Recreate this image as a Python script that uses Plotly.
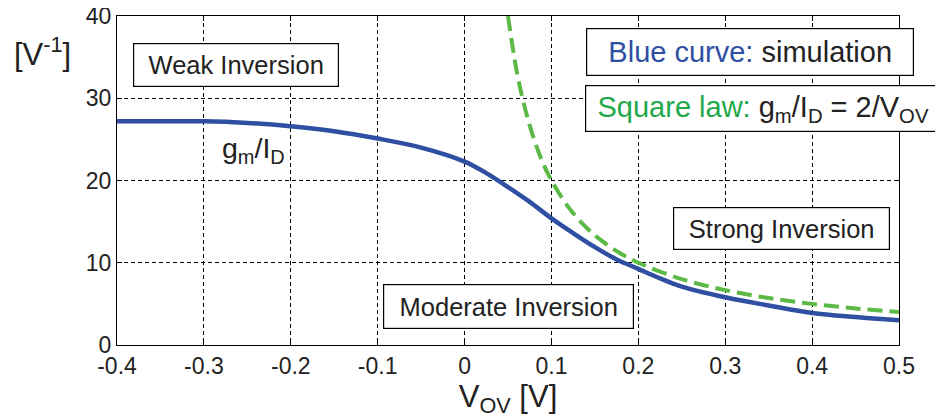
import plotly.graph_objects as go

# Simulated gm/ID curve
sim_vov = [-0.4, -0.35, -0.3, -0.25, -0.2, -0.15, -0.1, -0.05, 0.0, 0.025, 0.05, 0.075, 0.1,
           0.125, 0.15, 0.175, 0.19, 0.2, 0.225, 0.25, 0.3, 0.35, 0.4, 0.45, 0.5]
sim_gmid = [27.2, 27.2, 27.2, 27.0, 26.6, 26.0, 25.1, 24.0, 22.3, 20.9, 19.2, 17.4, 15.4,
            13.6, 11.9, 10.4, 9.7, 9.25, 8.1, 7.1, 5.8, 4.8, 3.9, 3.4, 3.0]

# Square law curve values
sq_vov = [0.05, 0.06, 0.07, 0.08, 0.09, 0.1, 0.12, 0.14, 0.16, 0.18, 0.2, 0.25, 0.3,
          0.35, 0.4, 0.45, 0.5]
sq_gmid = [40.0, 33.3, 28.6, 25.0, 22.2, 20.0, 16.7, 14.3, 12.5, 11.1, 10.0, 8.0, 6.67,
           5.71, 5.0, 4.44, 4.0]

x_ticks = [-0.4, -0.3, -0.2, -0.1, 0, 0.1, 0.2, 0.3, 0.4, 0.5]
x_labels = ["-0.4", "-0.3", "-0.2", "-0.1", "0", "0.1", "0.2", "0.3", "0.4", "0.5"]
y_ticks = [0, 10, 20, 30, 40]

BLUE = "#2f4fa2"
GREEN = "#5cb946"
GREEN_TXT = "#1fa84a"
TXT = "#222222"
FONT = "Liberation Sans, Arial, sans-serif"

fig = go.Figure()
fig.add_trace(go.Scatter(x=sq_vov, y=sq_gmid, mode="lines", line_shape="spline",
                         line=dict(color=GREEN, width=4, dash="15px,7px"), showlegend=False))
fig.add_trace(go.Scatter(x=sim_vov, y=sim_gmid, mode="lines", line_shape="spline",
                         line=dict(color=BLUE, width=4.5), showlegend=False))

axis_common = dict(showline=True, linecolor="black", linewidth=1.2, mirror="allticks",
                   ticks="inside", ticklen=5, tickcolor="black", automargin=False,
                   ticklabeloverflow="allow",
                   showgrid=True, gridcolor="black", gridwidth=1, griddash="4px,3px",
                   zeroline=False, tickfont=dict(family=FONT, size=23, color=TXT))

fig.update_xaxes(range=[-0.4, 0.5], tickvals=x_ticks, ticktext=x_labels,
                 title=dict(text="V<sub>OV</sub> [V]", font=dict(family=FONT, size=31, color=TXT),
                            standoff=4), **axis_common)
fig.update_yaxes(range=[0, 40], tickvals=y_ticks, **axis_common)

box = dict(showarrow=False, bordercolor="black", borderwidth=1.2, borderpad=1, bgcolor="white",
           xref="x", yref="y", align="center")
fig.add_annotation(x=-0.263, y=34.0, text="Weak Inversion", width=202, height=40,
                   font=dict(family=FONT, size=25.5, color=TXT), **box)
fig.add_annotation(x=0.051, y=4.73, text="Moderate Inversion", width=247, height=41,
                   font=dict(family=FONT, size=25.5, color=TXT), **box)
fig.add_annotation(x=0.365, y=14.2, text="Strong Inversion", width=213, height=39,
                   font=dict(family=FONT, size=25.5, color=TXT), **box)
fig.add_annotation(x=0.328, y=35.6, text=f"<span style='color:{BLUE}'>Blue curve:</span> simulation",
                   width=324, height=44, font=dict(family=FONT, size=29, color=TXT), **box)
fig.add_annotation(x=0.343, y=28.8,
                   text=f"<span style='color:{GREEN_TXT}'>Square law:</span> g<sub>m</sub>/I<sub>D</sub> = 2/V<sub>OV</sub>",
                   width=352, height=43, font=dict(family=FONT, size=29, color=TXT), **box)
fig.add_annotation(x=-0.243, y=23.7, text="g<sub>m</sub>/I<sub>D</sub>", showarrow=False,
                   xref="x", yref="y", font=dict(family=FONT, size=28.5, color=TXT))
fig.add_annotation(x=-0.0955, y=0.89, xref="paper", yref="paper", text="[V<sup>-1</sup>]",
                   xanchor="center", yanchor="middle",
                   showarrow=False, font=dict(family=FONT, size=31, color=TXT))

# page body has an 8px margin: the figure is sized/placed to compensate
fig.update_layout(width=935, height=412, margin=dict(l=109, r=44, t=8, b=74.5),
                  plot_bgcolor="white", paper_bgcolor="white")

fig.write_html("out.html")
